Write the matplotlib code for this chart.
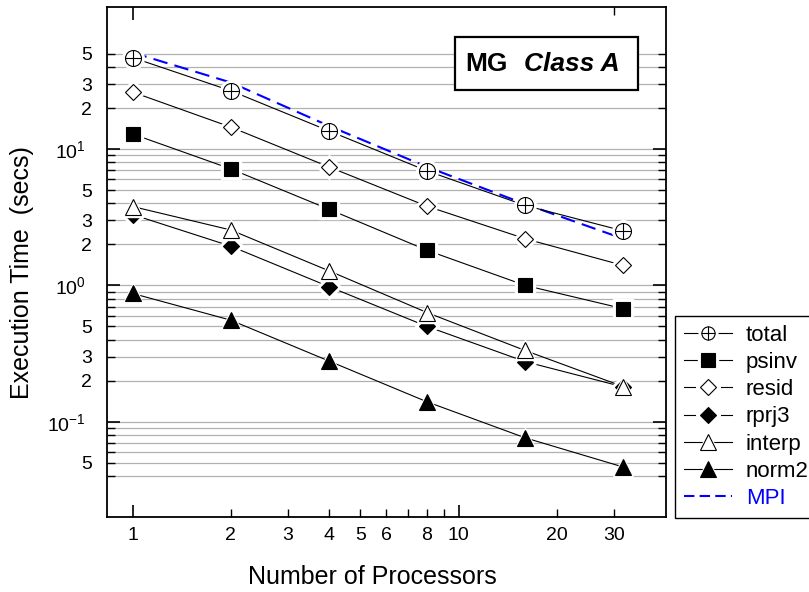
import matplotlib
matplotlib.use('Agg')
import matplotlib.pyplot as plt
from matplotlib.lines import Line2D
from matplotlib.legend_handler import HandlerTuple
from matplotlib.patches import Rectangle
from matplotlib.ticker import FixedLocator, FixedFormatter, NullFormatter

plt.rcParams['font.family'] = ['Liberation Sans', 'DejaVu Sans']
plt.rcParams['mathtext.fontset'] = 'custom'
plt.rcParams['mathtext.rm'] = 'Liberation Sans'
plt.rcParams['mathtext.it'] = 'Liberation Sans:italic'
plt.rcParams['mathtext.bf'] = 'Liberation Sans:bold'

# data
procs = [1, 2, 4, 8, 16, 32]
total = [46.9, 26.8, 13.6, 6.92, 3.86, 2.51]
psinv = [12.9, 7.16, 3.62, 1.81, 1.00, 0.675]
resid = [26.2, 14.5, 7.4, 3.81, 2.20, 1.40]
rprj3 = [3.31, 1.94, 0.98, 0.50, 0.276, 0.18]
interp = [3.79, 2.55, 1.28, 0.632, 0.333, 0.181]
norm2 = [0.873, 0.556, 0.279, 0.140, 0.0762, 0.0465]
mpi = [51, 30.8, 14.8, 7.4, 3.95, 2.2]

x_ticks = [1, 2, 3, 4, 5, 6, 7, 8, 9, 10, 20, 30]
x_labels = ['1', '2', '3', '4', '5', '6', '', '8', '', '10', '20', '30']
y_major = [0.1, 1, 10]
y_major_labels = ['$10^{-1}$', '$10^{0}$', '$10^{1}$']
y_minor = [0.04, 0.05, 0.06, 0.07, 0.08, 0.09,
           0.2, 0.3, 0.4, 0.5, 0.6, 0.7, 0.8, 0.9,
           2, 3, 4, 5, 6, 7, 8, 9,
           20, 30, 40, 50]
y_minor_labels = ['', '5', '', '', '', '',
                  '2', '3', '', '5', '', '', '', '',
                  '2', '3', '', '5', '', '', '', '',
                  '2', '3', '', '5']

fig = plt.figure(figsize=(8.09, 5.92), dpi=100)
ax = fig.add_axes([0.1323, 0.1267, 0.691, 0.8613])
ax.set_xscale('log')
ax.set_yscale('log')
ax.set_xlim(0.835, 43.3)
ax.set_ylim(0.02, 110)

# grid lines
for g in y_major + y_minor:
    ax.axhline(g, color='#b0b0b0', lw=0.9, zorder=1)

ax.plot(procs, mpi, color='blue', ls=(0, (7, 3.5)), lw=1.5, zorder=2)

series = [
    ('total', total, 'o', 'white', 11.5),
    ('psinv', psinv, 's', 'black', 10),
    ('resid', resid, 'D', 'white', 8),
    ('rprj3', rprj3, 'D', 'black', 8),
    ('interp', interp, '^', 'white', 11),
    ('norm2', norm2, '^', 'black', 11),
]

handles = []
labels = []
for i, (name, vals, m, fc, ms) in enumerate(series):
    ax.plot(procs, vals, color='black', lw=0.8, zorder=2)
    ax.plot(procs, vals, ls='none', marker=m, ms=ms + 4, mfc='white', mec='white',
            zorder=3 + 2 * i)
    ax.plot(procs, vals, ls='none', marker=m, ms=ms, mfc=fc, mec='black', mew=0.8,
            zorder=4 + 2 * i)
    lms = ms
    if name == 'total':
        ax.plot(procs, vals, ls='none', marker='+', ms=ms, mec='black', mew=0.8,
                zorder=4.5 + 2 * i)
        lms = 9.5
    h = [Line2D([], [], color='black', lw=0.8),
         Line2D([], [], ls='none', marker=m, ms=lms + 4, mfc='white', mec='white'),
         Line2D([], [], ls='none', marker=m, ms=lms, mfc=fc, mec='black', mew=0.8)]
    if name == 'total':
        h.append(Line2D([], [], ls='none', marker='+', ms=lms, mec='black', mew=0.8))
    handles.append(tuple(h))
    labels.append(name)

handles.append(Line2D([], [], color='blue', ls=(0, (5, 2.5)), lw=1.5))
labels.append('MPI')

# axes styling
for s in ax.spines.values():
    s.set_linewidth(1.3)
ax.xaxis.set_major_locator(FixedLocator([1, 10]))
ax.xaxis.set_major_formatter(FixedFormatter(['1', '10']))
ax.xaxis.set_minor_locator(FixedLocator([t for t in x_ticks if t not in (1, 10)]))
ax.xaxis.set_minor_formatter(FixedFormatter([l for t, l in zip(x_ticks, x_labels) if t not in (1, 10)]))
ax.yaxis.set_major_locator(FixedLocator(y_major))
ax.yaxis.set_major_formatter(FixedFormatter(y_major_labels))
ax.yaxis.set_minor_locator(FixedLocator(y_minor))
ax.yaxis.set_minor_formatter(FixedFormatter(y_minor_labels))

ax.tick_params(axis='both', which='both', direction='in', labelsize=14, color='black')
ax.tick_params(axis='y', which='both', left=True, right=True)
ax.tick_params(axis='y', which='major', length=9.5, width=1.2, pad=15)
ax.tick_params(axis='y', which='minor', length=6, width=1.0, pad=11)
ax.tick_params(axis='x', which='both', top=False, pad=7)
ax.tick_params(axis='x', which='major', length=9, width=1.2)
ax.tick_params(axis='x', which='minor', length=5.5, width=1.0)

# top axis only carries ticks at 1 and 30
ax2 = ax.twiny()
ax2.set_xscale('log')
ax2.set_xlim(ax.get_xlim())
ax2.xaxis.set_major_locator(FixedLocator([1]))
ax2.xaxis.set_minor_locator(FixedLocator([30]))
ax2.xaxis.set_major_formatter(NullFormatter())
ax2.xaxis.set_minor_formatter(NullFormatter())
ax2.tick_params(axis='x', which='both', direction='in')
ax2.tick_params(axis='x', which='major', length=9, width=1.2)
ax2.tick_params(axis='x', which='minor', length=5.5, width=1.0)
for s in ax2.spines.values():
    s.set_visible(False)

ax.set_xlabel('Number of Processors', fontsize=18)
ax.set_ylabel('Execution Time  (secs)', fontsize=18)
ax.xaxis.set_label_coords(0.474, -0.095)
ax.yaxis.set_label_coords(-0.13, 0.48)

# title box
ax.add_patch(Rectangle((0.6225, 0.837), 0.3275, 0.104, transform=ax.transAxes,
                       facecolor='white', edgecolor='black', lw=1.6, zorder=20))
ax.text(0.717, 0.889, 'MG', transform=ax.transAxes, fontsize=19, fontweight='bold',
        ha='right', va='center', zorder=21)
ax.text(0.7465, 0.889, 'Class A', transform=ax.transAxes, fontsize=19,
        fontweight='bold', fontstyle='italic', ha='left', va='center', zorder=21)

leg = fig.legend(handles, labels, loc='lower left', bbox_to_anchor=(0.834, 0.125),
                 borderaxespad=0, handler_map={tuple: HandlerTuple(ndivide=1, pad=0)},
                 fontsize=16, frameon=True, fancybox=False, edgecolor='black',
                 framealpha=1, handlelength=2.2, handletextpad=0.6, labelspacing=0.28,
                 borderpad=0.4)
leg.get_frame().set_linewidth(1.0)
leg.get_texts()[-1].set_color('blue')

fig.savefig('out.png', dpi=100)
